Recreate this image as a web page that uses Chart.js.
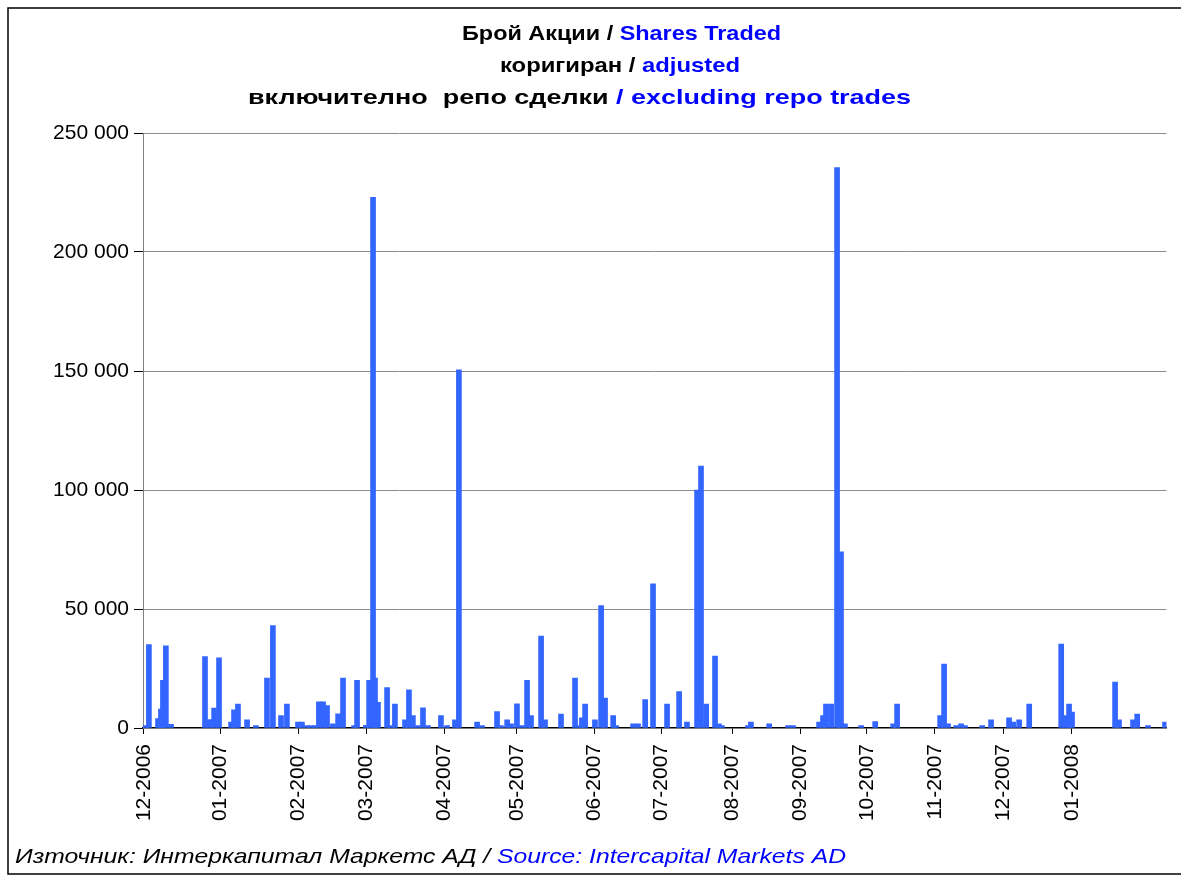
<!DOCTYPE html>
<html>
<head>
<meta charset="utf-8">
<script src="https://cdn.jsdelivr.net/npm/chart.js@4"></script>
<style>
  body { margin: 0; background: #fff; }
  #wrap { width: 1181px; height: 880px; position: relative; }
</style>
</head>
<body>
<div id="wrap"><canvas id="sharesChart"></canvas></div>
<script>
// position of each trading day on the chart's time axis (days from 1 Dec 2006)
const tradeDay = [
  0.8, 2.0, 5.7, 6.9, 7.7, 8.9, 11.0, 24.8, 26.8, 28.5, 30.5, 35.4, 36.6, 38.2, 41.9, 45.5,
  50.0, 52.4, 55.7, 58.1, 62.6, 64.2, 66.3, 67.9, 69.5, 71.1, 72.8, 74.4, 76.8, 78.9, 80.9,
  85.4, 86.6, 90.2, 91.5, 93.9, 93.1, 95.1, 98.8, 100.4, 102.0, 106.1, 107.7, 109.3, 111.4,
  113.4, 115.4, 120.7, 123.2, 126.4, 128.0, 135.4, 137.4, 143.5, 145.1, 147.6, 149.2, 151.6,
  153.7, 155.7, 157.3, 161.4, 163.0, 169.5, 175.2, 177.2, 178.0, 179.3, 183.3, 185.8, 187.4,
  190.7, 191.9, 198.8, 200.8, 203.7, 206.9, 212.6, 217.5, 220.7, 224.8, 226.4, 228.5, 232.1,
  233.7, 234.9, 245.5, 246.7, 254.1, 261.8, 263.8, 274.4, 276.0, 277.2, 279.3, 281.7, 283.3,
  284.9, 291.5, 297.2, 304.5, 306.1, 323.6, 325.2, 326.8, 330.1, 332.1, 333.7, 340.7, 344.3,
  351.6, 353.3, 355.7, 359.8, 372.8, 374.4, 376.0, 377.2, 394.7, 396.3, 402.0, 403.7, 408.1,
  415.0
];
const sharesTraded = [
  1000, 35000, 4000, 8000, 20000, 34500, 1500, 30000, 3500, 8400, 29500, 2500, 7600, 10000, 3400, 1000,
  21000, 43000, 5200, 10000, 2500, 2500, 1000, 1000, 1000, 11000, 11000, 9400, 1800, 6000, 21000,
  1000, 20000, 1100, 20000, 21000, 223000, 10800, 17000, 1000, 10000, 3400, 16000, 5200, 1000,
  8500, 1000, 5200, 1000, 3400, 150500, 2500, 1000, 6900, 1000, 3400, 1800, 10200,
  1000, 20000, 5200, 38600, 3400, 5900, 21000, 1000, 4300, 10000, 3400, 51400, 12600,
  5200, 1000, 1800, 1800, 11900, 60600, 10000, 15300, 2500, 100000, 110000, 10000, 30200,
  1700, 1000, 1000, 2500, 1800, 1000, 1000, 2500, 5200, 10000, 10000, 235500, 74000,
  1700, 1000, 2700, 1700, 10000, 5200, 26900, 1700, 1000, 1800, 1000, 1000, 3400,
  4300, 2500, 3400, 10000, 35300, 5200, 10000, 6700, 19300, 3400, 3400, 5900, 1000,
  2500
];

const monthStart = [0, 30.9, 62.7, 90.4, 122.0, 151.5, 183.1, 210.2, 239.0, 266.7, 293.8, 321.5, 349.2, 377.1];
const monthLabels = ["12-2006", "01-2007", "02-2007", "03-2007", "04-2007", "05-2007", "06-2007",
  "07-2007", "08-2007", "09-2007", "10-2007", "11-2007", "12-2007", "01-2008"];
const yTicks = [0, 50000, 100000, 150000, 200000, 250000];

const BLACK = "#000000";
const BLUE = "#0000ff";
const FONT = "'Liberation Sans', Arial, sans-serif";

// each text line is fitted between a left and right edge
const titleLines = [
  { x0: 462, x1: 781, y: 40, parts: [["Брой Акции / ", BLACK], ["Shares Traded", BLUE]] },
  { x0: 500, x1: 740, y: 72, parts: [["коригиран / ", BLACK], ["adjusted", BLUE]] },
  { x0: 248, x1: 911, y: 104, parts: [["включително  репо сделки ", BLACK], ["/ excluding repo trades", BLUE]] }
];
const sourceLine = { x0: 15, x1: 846, y: 863, parts: [["Източник: Интеркапитал Маркетс АД / ", BLACK], ["Source: Intercapital Markets AD", BLUE]] };

function spaced(v) {
  return String(v).replace(/\B(?=(\d{3})+(?!\d))/g, " ");
}

function drawLine(ctx, line) {
  let w = 0;
  for (const [txt] of line.parts) w += ctx.measureText(txt).width;
  ctx.save();
  ctx.translate(line.x0, line.y);
  ctx.scale((line.x1 - line.x0) / w, 1);
  let x = 0;
  for (const [txt, col] of line.parts) {
    ctx.fillStyle = col;
    ctx.fillText(txt, x, 0);
    x += ctx.measureText(txt).width;
  }
  ctx.restore();
}

const frameAndText = {
  id: "frameAndText",
  afterDraw(chart) {
    const ctx = chart.ctx;
    ctx.save();
    ctx.textBaseline = "alphabetic";
    ctx.textAlign = "left";

    ctx.font = "bold 21px " + FONT;
    for (const line of titleLines) drawLine(ctx, line);

    ctx.font = "italic 21px " + FONT;
    drawLine(ctx, sourceLine);

    // outer frame
    ctx.strokeStyle = "#000";
    ctx.lineWidth = 1.5;
    ctx.strokeRect(8, 8, 1200, 866);
    ctx.restore();
  }
};

window.addEventListener("DOMContentLoaded", () => {
  const points = tradeDay.map((d, i) => ({ x: d, y: sharesTraded[i] }));

  new Chart(document.getElementById("sharesChart"), {
    type: "bar",
    data: {
      datasets: [{
        data: points,
        backgroundColor: "#3366ff",
        borderWidth: 0,
        barThickness: 5
      }]
    },
    options: {
      responsive: true,
      maintainAspectRatio: false,
      animation: false,
      layout: { padding: { top: 133, left: 10, right: 14.5, bottom: 0 } },
      plugins: { legend: { display: false }, title: { display: false }, tooltip: { enabled: false } },
      scales: {
        x: {
          type: "linear",
          offset: false,
          min: -0.4,
          max: 415.6,
          afterBuildTicks(scale) {
            scale.ticks = monthStart.map(v => ({ value: v }));
          },
          afterFit(scale) { scale.height = 152; },
          ticks: {
            autoSkip: false,
            minRotation: 90,
            maxRotation: 90,
            padding: 10,
            color: "#000",
            font: { family: FONT, size: 21 },
            callback: (v, i) => monthLabels[i]
          },
          grid: { offset: false, drawOnChartArea: false, drawTicks: true, tickLength: 6, tickColor: "#000" },
          border: { color: "#000", width: 1.5 }
        },
        y: {
          min: 0,
          max: 250000,
          afterBuildTicks(scale) {
            scale.ticks = yTicks.map(v => ({ value: v }));
          },
          afterFit(scale) { scale.width = 133; },
          ticks: {
            padding: 5,
            color: "#000",
            font: { family: FONT, size: 21 },
            callback: v => spaced(v)
          },
          grid: {
            color: c => (c.tick && c.tick.value === 0 ? "rgba(0,0,0,0)" : "#8c8c8c"),
            tickColor: "#000",
            tickLength: 9
          },
          border: { color: "#808080" }
        }
      }
    },
    plugins: [frameAndText]
  });
});
</script>
</body>
</html>
